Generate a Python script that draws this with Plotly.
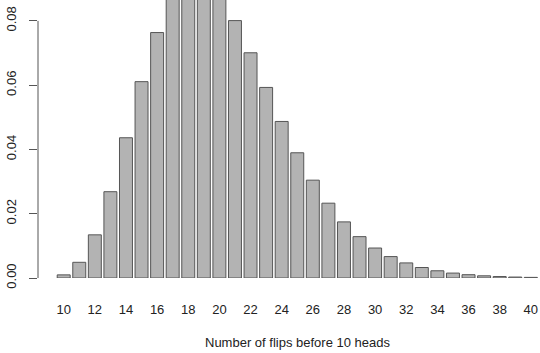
import plotly.graph_objects as go

flips = list(range(10, 41))
prob = [0.000977, 0.004883, 0.013428, 0.026855, 0.043640, 0.061096, 0.076370,
        0.087280, 0.092735, 0.092735, 0.088098, 0.080090, 0.070079, 0.059297,
        0.048708, 0.038967, 0.030443, 0.023280, 0.017460, 0.012865, 0.009327,
        0.006662, 0.004694, 0.003265, 0.002245, 0.001527, 0.001027, 0.000685,
        0.000453, 0.000297, 0.000193]
xtick_vals = list(range(10, 41, 2))
ytick_vals = [0.00, 0.02, 0.04, 0.06, 0.08]
ytick_text = ["0.00", "0.02", "0.04", "0.06", "0.08"]
x_title = "Number of flips before 10 heads"

font = dict(family="Liberation Sans, Arial, sans-serif", size=13, color="#222222")

fig = go.Figure(go.Bar(
    x=flips, y=prob,
    marker=dict(color="#b3b3b3", line=dict(color="#555555", width=1)),
    hoverinfo="x+y",
))

fig.update_layout(
    width=540, height=353,
    margin=dict(l=38, r=0, t=0, b=75, autoexpand=False),
    paper_bgcolor="white", plot_bgcolor="white",
    bargap=0.167,
    showlegend=False,
    font=font,
    xaxis=dict(
        range=[8.35, 40.59], tickmode="array", tickvals=xtick_vals,
        showgrid=False, zeroline=False, showline=False, ticks="",
        ticklabelstandoff=22, tickfont=font, automargin=False,
    ),
    yaxis=dict(
        range=[0, 0.0865], tickmode="array", tickvals=ytick_vals, ticktext=ytick_text,
        showgrid=False, zeroline=False, showline=False,
        ticks="outside", ticklen=8, tickcolor="#555555", tickwidth=1,
        tickangle=-90, ticklabelstandoff=8, tickfont=font, automargin=False,
    ),
    shapes=[dict(type="line", xref="paper", yref="y", x0=0, x1=0, y0=0, y1=0.08,
                 line=dict(color="#555555", width=1))],
    annotations=[dict(text=x_title, xref="paper", yref="paper", x=0.516, y=0,
                      yshift=-64, showarrow=False, xanchor="center", yanchor="middle",
                      font=font)],
)

fig.write_html("out.html", config={"displayModeBar": False},
               post_script="document.body.style.margin='0';document.body.style.overflow='hidden';")
